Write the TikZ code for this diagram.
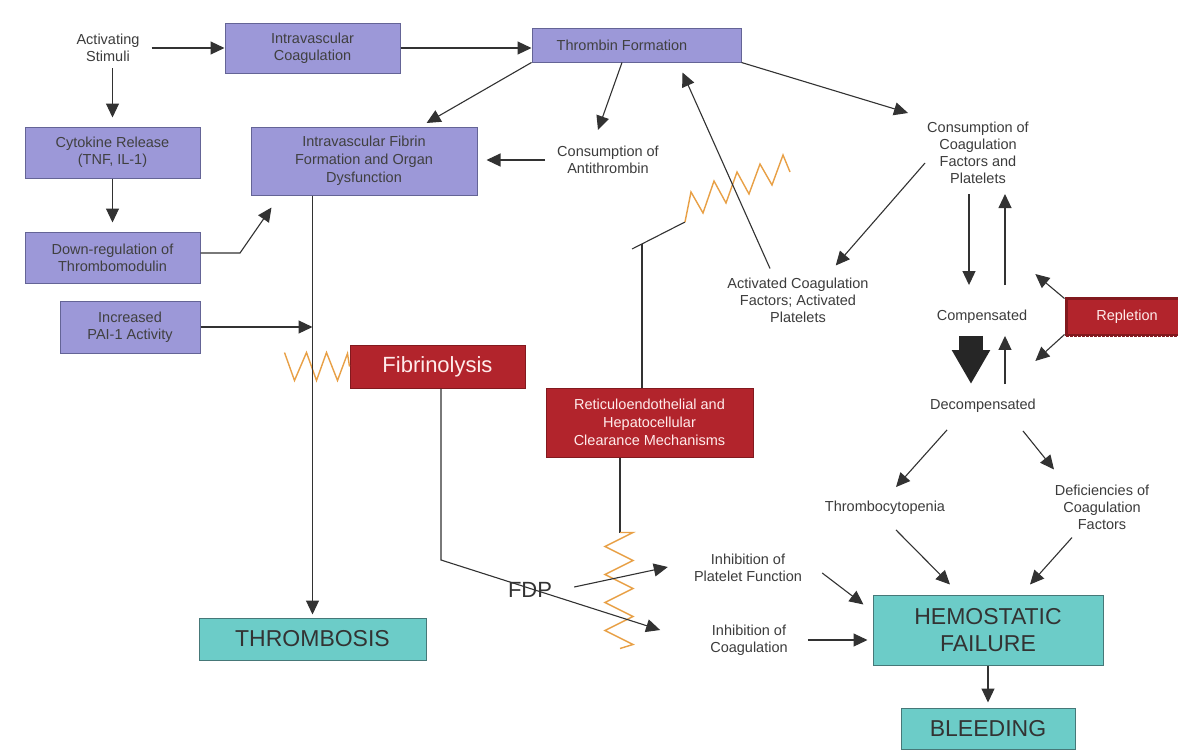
\documentclass[tikz,border=0pt]{standalone}
\usepackage{fontspec}
\setmainfont{Liberation Sans}
\usetikzlibrary{arrows.meta}
\definecolor{purp}{RGB}{156,152,216}
\definecolor{purpd}{RGB}{100,100,150}
\definecolor{redb}{RGB}{178,36,44}
\definecolor{redd}{RGB}{130,25,30}
\definecolor{tealb}{RGB}{108,204,200}
\definecolor{teald}{RGB}{70,120,120}
\definecolor{orng}{RGB}{232,160,70}
\definecolor{ink}{RGB}{60,60,60}
\definecolor{lnc}{RGB}{50,50,50}
\begin{document}
\begin{tikzpicture}[x=1pt,y=-1pt,
 every node/.style={font=\fontsize{14.5}{17}\selectfont, text=ink, align=center, inner sep=2pt},
 pbox/.style={draw=purpd, fill=purp, line width=1pt, text=black!75},
 rbox/.style={draw=redd, fill=redb, line width=1pt, text=white!92!red},
 tbox/.style={draw=teald, fill=tealb, line width=1pt, text=black!80, font=\fontsize{23}{27}\selectfont},
 arr/.style={draw=lnc, line width=1.1pt, -{Triangle[length=14pt,width=13pt]}},
 ln/.style={draw=lnc, line width=1.1pt},
 zz/.style={draw=orng, line width=1.4pt, line join=miter},
]
\useasboundingbox (0,0) rectangle (1178,750);
\fill[white] (0,0) rectangle (1178,750);

% boxes
\node (stim) at (108,48) {Activating\\Stimuli};
\node[pbox, minimum width=175pt, minimum height=50pt] (ivc) at (312.5,48) {Intravascular\\Coagulation};
\node[pbox, minimum width=209pt, minimum height=34pt] (thr) at (636.5,45) {};
\node[text=black!75] (thrt) at (622,45) {Thrombin Formation};
\node[pbox, minimum width=175pt, minimum height=51pt] (cyt) at (112.5,152.5) {Cytokine Release\\(TNF, IL-1)};
\node[pbox, minimum width=175pt, minimum height=51pt] (down) at (112.5,257.5) {Down-regulation of\\Thrombomodulin};
\node[pbox, minimum width=140pt, minimum height=52pt] (pai) at (130,327) {Increased\\PAI-1 Activity};
\node[pbox, minimum width=226pt, minimum height=68pt, font=\fontsize{14.5}{18}\selectfont] (fib) at (364,161) {Intravascular Fibrin\\Formation and Organ\\Dysfunction};

\node[rbox, minimum width=175pt, minimum height=43pt, font=\fontsize{22}{26}\selectfont] (fibl) at (437.5,366.5) {Fibrinolysis};
\node[rbox, minimum width=207pt, minimum height=69pt, font=\fontsize{14.5}{18}\selectfont] (rec) at (649.5,422.5) {Reticuloendothelial and\\Hepatocellular\\Clearance Mechanisms};
\node[rbox, minimum width=122pt, minimum height=37pt, line width=3pt] (rep) at (1127,316.5) {Repletion};
\draw[white, line width=1.5pt, dash pattern=on 1.5pt off 2.5pt] (rep.north west) rectangle (rep.south east);

\node[tbox, minimum width=227pt, minimum height=42pt] (thromb) at (312.5,639) {THROMBOSIS};
\node[tbox, minimum width=230pt, minimum height=70pt] (hf) at (988,630) {HEMOSTATIC\\FAILURE};
\node[tbox, minimum width=174pt, minimum height=41pt] (bleed) at (988,728.5) {BLEEDING};

% text nodes
\node (cat) at (608,160) {Consumption of\\Antithrombin};
\node (ccf) at (978,153) {Consumption of\\Coagulation\\Factors and\\Platelets};
\node (act) at (798,300) {Activated Coagulation\\Factors; Activated\\Platelets};
\node (comp) at (982,317) {Compensated};
\node (decomp) at (983,406) {Decompensated};
\node (tcp) at (885,508) {Thrombocytopenia};
\node (def) at (1102,507) {Deficiencies of\\Coagulation\\Factors};
\node (ipf) at (748,568) {Inhibition of\\Platelet Function};
\node (ic) at (749,640) {Inhibition of\\Coagulation};

\coordinate (dbend) at (240,253);
\coordinate (fbend) at (441,560);
\coordinate (rt) at (642,244);
\coordinate (rtl) at (632,249);
\coordinate (zzA) at (685,222);

% zigzags
\draw[zz] (fibl.west) -- ++(-2,-13) -- ++(-10,27) -- ++(-11,-28) -- ++(-10,28) -- ++(-10,-28) -- ++(-12,28) -- ++(-10,-28);
\draw[ln] ([xshift=-29.5pt]rec.south) -- ([xshift=-29.5pt,yshift=-75pt]rec.south) coordinate (zb);
\draw[zz] (zb) -- ++(13,0) -- ++(-28,14) -- ++(28,14) -- ++(-28,14) -- ++(28,14) -- ++(-28,14) -- ++(28,14) -- ++(-28,14) -- ++(28,14) -- ++(-13,4);
\draw[ln] ([xshift=-7.5pt]rec.north) -- (rt);
\draw[ln] (rtl) -- (zzA);
\draw[zz] (zzA) -- ++(6,-30) -- ++(12,21) -- ++(11,-32) -- ++(12,22) -- ++(11,-31) -- ++(12,22) -- ++(11,-30) -- ++(12,21) -- ++(11,-30) -- ++(7,17);

% connectors
\draw[arr] ([xshift=10pt]stim.east) -- (ivc.west);
\draw[arr, shorten <=4pt, shorten >=9pt] (stim.south -| cyt.north) -- (cyt.north);
\draw[arr, shorten >=9pt] (cyt.south) -- (down.north);
\draw[arr] ([yshift=4.5pt]down.east) -- (dbend) -- ([xshift=21pt,yshift=-12pt]fib.south west);
\draw[arr] (pai.east) -- (pai.east -| thromb.north);
\draw[arr, shorten >=3pt] (fib.south -| thromb.north) -- (thromb.north);
\draw[arr] (ivc.east) -- (ivc.east -| thr.west);
\draw[arr, shorten >=7pt] (thr.south west) -- ([xshift=-57pt]fib.north east);
\draw[arr] ([xshift=-14.5pt]thr.south) -- ([xshift=-10pt,yshift=14pt]cat.north);
\draw[arr, shorten <=10pt, shorten >=9pt] (cat.west) -- (cat.west -| fib.east);
\draw[arr] (thr.south east) -- ([xshift=-17pt,yshift=7pt]ccf.north west);
\draw[arr] ([yshift=-10pt]ccf.west) -- ([xshift=-35pt,yshift=10pt]act.north east);
\draw[arr] ([xshift=-28pt,yshift=7pt]act.north) -- ([xshift=46pt,yshift=-10pt]thr.south);
\draw[arr, shorten <=8pt, shorten >=23pt] ([xshift=-9pt]ccf.south) -- ([xshift=-13pt]comp.north);
\draw[arr, shorten <=23pt, shorten >=8pt] ([xshift=23pt]comp.north) -- ([xshift=27pt]ccf.south);
\draw[draw=black!85, line width=24pt, -{Triangle[length=34pt,width=36pt]}] ([xshift=-11pt,yshift=-10pt]comp.south) -- ([xshift=-12pt,yshift=13pt]decomp.north);
\draw[arr] ([xshift=22pt,yshift=13pt]decomp.north) -- ([xshift=23pt,yshift=-10pt]comp.south);
\draw[arr] ([yshift=-2pt]rep.north west) -- ([xshift=6pt,yshift=34pt]comp.north east);
\draw[arr] ([yshift=2pt]rep.south west) -- ([xshift=6pt,yshift=-35pt]comp.south east);
\draw[arr] ([xshift=-36pt,yshift=-15pt]decomp.south) -- ([xshift=11pt,yshift=12pt]tcp.north);
\draw[arr] ([xshift=40pt,yshift=-16pt]decomp.south) -- ([xshift=-48pt,yshift=13pt]def.north);
\draw[arr] ([xshift=11pt,yshift=-13pt]tcp.south) -- ([xshift=-38pt,yshift=10pt]hf.north);
\draw[arr] ([xshift=-30pt,yshift=-6pt]def.south) -- ([xshift=42pt,yshift=10pt]hf.north);
\draw[arr] ([xshift=18pt,yshift=-5pt]ipf.east) -- ([xshift=-9pt,yshift=-10pt]hf.north west);
\draw[arr, shorten >=5pt] ([xshift=18pt]ic.east) -- (ic.east -| hf.west);
\draw[arr, shorten >=5pt] (hf.south) -- (bleed.north);
\draw[arr] ([xshift=3.5pt]fibl.south) -- (fbend) -- ([xshift=-48pt,yshift=10pt]ic.west);

\node[font=\fontsize{22}{26}\selectfont, text=black!80] (fdp) at (530,590) {FDP};
\draw[arr] ([xshift=20pt,yshift=3pt]fdp.east) -- ([xshift=-24pt,yshift=1pt]ipf.west);
\end{tikzpicture}
\end{document}
